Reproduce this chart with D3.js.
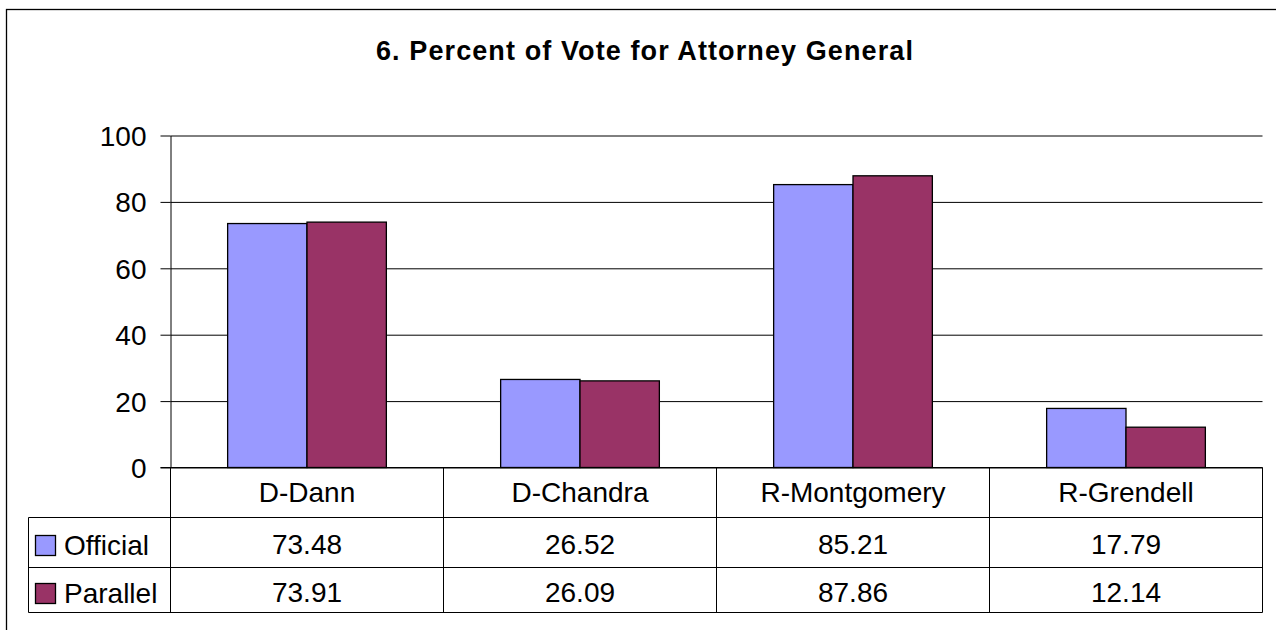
<!DOCTYPE html>
<html>
<head>
<meta charset="utf-8">
<script src="https://cdn.jsdelivr.net/npm/d3@7"></script>
<style>
  html, body { margin: 0; padding: 0; background: #fff; }
  svg { display: block; font-family: "Liberation Sans", Arial, sans-serif; }
</style>
</head>
<body>
<svg id="chart"></svg>
<script>
// data
const categories = ["D-Dann", "D-Chandra", "R-Montgomery", "R-Grendell"];
const seriesNames = ["Official", "Parallel"];
const official = [73.48, 26.52, 85.21, 17.79];
const parallel = [73.91, 26.09, 87.86, 12.14];
const yTicks = [0, 20, 40, 60, 80, 100];
const colors = ["#9999FF", "#993366"];
const titleText = "6. Percent of Vote for Attorney General";

const W = 1276, H = 630;
const plot = { left: 170.5, right: 1262.5, top: 135.5, bottom: 467.5 };
const rows = [467.5, 517.5, 567.5, 612.5];   // table row edges
const tableLeft = 28.5;

const svg = d3.select("#chart").attr("width", W).attr("height", H);

// outer frame (runs off the right/bottom edge in the original)
svg.append("rect")
  .attr("x", 6.5).attr("y", 9.5)
  .attr("width", 1320).attr("height", 700)
  .attr("fill", "none").attr("stroke", "#000").attr("stroke-width", 1.3);

// title
svg.append("text")
  .attr("x", 645).attr("y", 59.5)
  .attr("text-anchor", "middle")
  .attr("font-weight", "bold")
  .attr("font-size", 27)
  .attr("letter-spacing", "1.1px")
  .text(titleText);

// scales
const y = d3.scaleLinear().domain([0, 100]).range([plot.bottom, plot.top]);
const x0 = d3.scaleBand().domain(categories).range([plot.left, plot.right]);
const x1 = d3.scaleBand().domain(seriesNames).range([0, x0.bandwidth()]).paddingOuter(0.72);

// gridlines
svg.append("g")
  .attr("transform", `translate(${plot.left},0)`)
  .call(d3.axisLeft(y).tickValues(yTicks).tickSize(-(plot.right - plot.left)).tickFormat(""))
  .call(g => g.select(".domain").remove())
  .call(g => g.selectAll("line").attr("stroke", "#000").attr("stroke-width", 1));

// y axis with ticks + labels
svg.append("g")
  .attr("transform", `translate(${plot.left},0)`)
  .call(d3.axisLeft(y).tickValues(yTicks).tickSizeInner(10).tickSizeOuter(0).tickPadding(14))
  .call(g => g.select(".domain").attr("stroke", "#000"))
  .call(g => g.selectAll("line").attr("stroke", "#000"))
  .call(g => g.selectAll("text")
    .attr("font-family", "Liberation Sans, Arial, sans-serif")
    .attr("font-size", 28).attr("fill", "#000").attr("dy", "0.36em"));

// bars
const barData = categories.map((c, i) => ({ cat: c, vals: [official[i], parallel[i]] }));
const groups = svg.append("g").selectAll("g")
  .data(barData).join("g")
    .attr("transform", d => `translate(${x0(d.cat)},0)`);

groups.selectAll("rect")
  .data(d => d.vals.map((v, k) => ({ name: seriesNames[k], v, k })))
  .join("rect")
    .attr("x", d => x1(d.name))
    .attr("y", d => y(d.v))
    .attr("width", x1.bandwidth())
    .attr("height", d => y(0) - y(d.v))
    .attr("fill", d => colors[d.k])
    .attr("stroke", "#000")
    .attr("stroke-width", 1.3);

// zero line drawn on top of bars
svg.append("line")
  .attr("x1", plot.left - 10).attr("x2", plot.right)
  .attr("y1", y(0)).attr("y2", y(0))
  .attr("stroke", "#000");

// data table
const table = svg.append("g").attr("stroke", "#000").attr("stroke-width", 1);
rows.slice(1).forEach(r => {
  table.append("line").attr("x1", tableLeft).attr("x2", plot.right).attr("y1", r).attr("y2", r);
});
table.append("line").attr("x1", tableLeft).attr("x2", tableLeft).attr("y1", rows[1]).attr("y2", rows[3]);
const edges = categories.map(c => x0(c)).concat([plot.right]);
edges.forEach(xx => {
  table.append("line").attr("x1", xx).attr("x2", xx).attr("y1", rows[0]).attr("y2", rows[3]);
});

// category labels
svg.append("g").selectAll("text")
  .data(categories).join("text")
    .attr("x", d => x0(d) + x0.bandwidth() / 2)
    .attr("y", 502)
    .attr("text-anchor", "middle")
    .attr("font-size", 28)
    .text(d => d);

// value rows
const seriesVals = [official, parallel];
const baselines = [553.5, 601.5];
seriesVals.forEach((vals, k) => {
  svg.append("g").selectAll("text")
    .data(vals).join("text")
      .attr("x", (d, i) => x0(categories[i]) + x0.bandwidth() / 2)
      .attr("y", baselines[k])
      .attr("text-anchor", "middle")
      .attr("font-size", 28)
      .text(d => d3.format(".2f")(d));

  // legend key + name
  svg.append("rect")
    .attr("x", 35.5).attr("y", baselines[k] - 18)
    .attr("width", 20).attr("height", 20)
    .attr("fill", colors[k]).attr("stroke", "#000").attr("stroke-width", 1.3);
  svg.append("text")
    .attr("x", 64).attr("y", baselines[k] + 1)
    .attr("font-size", 28)
    .text(seriesNames[k]);
});
</script>
</body>
</html>
